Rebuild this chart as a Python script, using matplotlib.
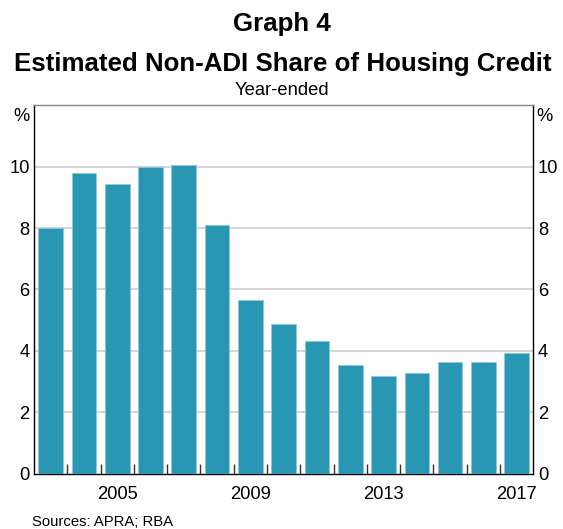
import matplotlib
matplotlib.use("Agg")
import matplotlib.pyplot as plt
import numpy as np

plt.rcParams['font.family'] = ['Liberation Sans', 'DejaVu Sans']

years = list(range(2003, 2018))
share = [8.0, 9.78, 9.43, 10.0, 10.06, 8.1, 5.65, 4.88, 4.32, 3.54, 3.18, 3.29, 3.64, 3.64, 3.94]
year_labels = ['2005', '2009', '2013', '2017']
y_ticks = [0, 2, 4, 6, 8, 10]

bar_color = '#2996b4'
grid_color = '#d4d4d4'
label_size = 13.2

fig = plt.figure(figsize=(5.63, 5.29), dpi=100)
ax = fig.add_axes([0.0604, 0.1045, 0.9473 - 0.0604, 0.801 - 0.1045])

x = np.arange(len(years))
ax.bar(x, share, width=0.74, color=bar_color, edgecolor='#8cc9da', linewidth=0.6, zorder=3)

ax.set_xlim(-0.5, len(years) - 0.5)
ax.set_ylim(0, 12)

# horizontal grid
for v in y_ticks[1:]:
    ax.axhline(v, color=grid_color, linewidth=1.4, zorder=1)

# y axis labels on both sides
ax.set_yticks(y_ticks)
ax.set_yticklabels([str(v) for v in y_ticks])
ax.tick_params(axis='y', which='both', length=0, labelsize=label_size, pad=3.2,
               left=False, right=False, labelleft=True, labelright=True)
ax.text(-0.008, 0.993, '%', transform=ax.transAxes, ha='right', va='top', fontsize=label_size)
ax.text(1.006, 0.993, '%', transform=ax.transAxes, ha='left', va='top', fontsize=label_size)

# x axis: year labels at bar centres, small ticks between years
label_pos = [years.index(int(y)) for y in year_labels]
ax.set_xticks(label_pos)
ax.set_xticklabels(year_labels)
ax.set_xticks(np.arange(0.5, len(years) - 0.5, 1.0), minor=True)
ax.tick_params(axis='x', which='major', length=0, labelsize=label_size, pad=9)
ax.tick_params(axis='x', which='minor', direction='in', length=7, width=1, color='#333333')

for side in ['left', 'right', 'bottom']:
    ax.spines[side].set_color('black')
    ax.spines[side].set_linewidth(1.0)
ax.spines['top'].set_color('#888888')
ax.spines['top'].set_linewidth(1.0)

fig.text(0.5, 0.955, 'Graph 4', ha='center', va='center', fontsize=18.6, fontweight='bold')
fig.text(0.503, 0.879, 'Estimated Non-ADI Share of Housing Credit', ha='center', va='center',
         fontsize=18.6, fontweight='bold')
fig.text(0.5, 0.828, 'Year-ended', ha='center', va='center', fontsize=label_size)
fig.text(0.057, 0.013, 'Sources: APRA; RBA', ha='left', va='center', fontsize=10.7)

fig.savefig('out.png', dpi=100)
